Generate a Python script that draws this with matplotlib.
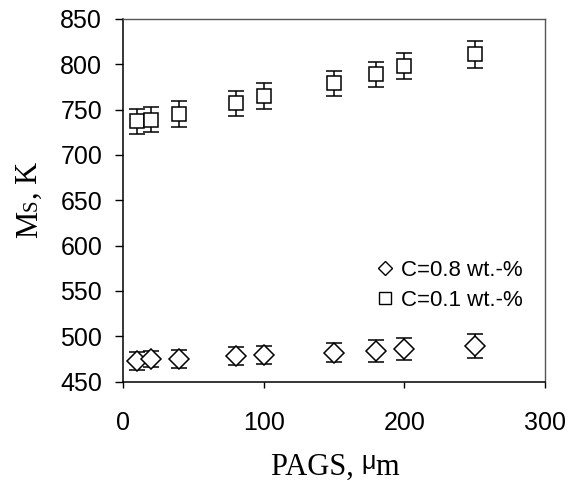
import numpy as np
import matplotlib
matplotlib.use("Agg")
import matplotlib.pyplot as plt
from matplotlib.lines import Line2D

# PAGS (um) and Ms (K) with error bars, two carbon contents
pags = [10, 20, 40, 80, 100, 150, 180, 200, 250]
ms_c08 = [473, 475, 475, 478, 479, 482, 484, 486, 489]
err_c08 = [10, 9, 10, 10, 10, 11, 12, 12, 13]
ms_c01 = [737, 739, 745, 757, 765, 779, 789, 798, 811]
err_c01 = [14, 14, 14, 14, 14, 14, 14, 14, 15]
labels = ["C=0.8 wt.-%", "C=0.1 wt.-%"]

W, H = 572, 492
fig = plt.figure(figsize=(W / 100, H / 100), dpi=100)
ax = fig.add_axes([123 / W, (H - 381.5) / H, 422 / W, 362.5 / H])

sans = "Liberation Sans"
serif = "Liberation Serif"

ax.errorbar(pags, ms_c08, yerr=err_c08, fmt="D", ms=10, mfc="white",
            mec="black", mew=1.1, ecolor="black", elinewidth=1.1,
            capsize=6, capthick=1.1, zorder=3)
ax.errorbar(pags, ms_c01, yerr=err_c01, fmt="s", ms=10, mfc="white",
            mec="black", mew=1.1, ecolor="black", elinewidth=1.1,
            capsize=6, capthick=1.1, zorder=3)

ax.set_xlim(0, 300)
ax.set_ylim(450, 850)
ax.set_xticks([0, 100, 200, 300])
ax.set_yticks(np.arange(450, 851, 50))
for sp in ["left", "bottom"]:
    ax.spines[sp].set_color("black")
    ax.spines[sp].set_linewidth(1.1)
for sp in ["top", "right"]:
    ax.spines[sp].set_color("#555555")
    ax.spines[sp].set_linewidth(1.0)
ax.tick_params(axis="y", direction="out", length=6, width=1, pad=9,
               labelsize=18)
ax.tick_params(axis="x", direction="out", length=4, width=1, pad=17,
               labelsize=18)
for t in ax.get_xticklabels() + ax.get_yticklabels():
    t.set_fontfamily(sans)

handles = [
    Line2D([], [], ls="none", marker="D", ms=7, mfc="white", mec="black", mew=1),
    Line2D([], [], ls="none", marker="s", ms=8, mfc="white", mec="black", mew=1),
]
ax.legend(handles, labels, loc="upper left", bbox_to_anchor=(0.6, 0.336),
          frameon=False, prop={"family": sans, "size": 16},
          handlelength=0.8, handletextpad=0.3, labelspacing=0.4,
          borderpad=0, borderaxespad=0)


def chain(pieces, x, y, rotation=0, keep=True):
    """Place text pieces one after another, starting at pixel (x, y)."""
    renderer = fig.canvas.get_renderer()
    pos = 0.0
    for s, size, fam, rise in pieces:
        if rotation == 0:
            px, py = x + pos, y + rise
        else:
            px, py = x - rise, y + pos
        t = fig.text(px / W, py / H, s, fontsize=size, family=fam,
                     rotation=rotation, ha="left", va="baseline",
                     rotation_mode="anchor")
        ext = t.get_window_extent(renderer)
        pos += ext.width if rotation == 0 else ext.height
        if not keep:
            t.remove()
    return pos


# x label: "PAGS, " + raised sans mu + "m"
xl = [("PAGS, ", 22, serif, 0), ("\u03bc", 18, sans, 6), ("m", 22, serif, 0)]
width = chain(xl, 0, 0, keep=False)
chain(xl, 335 - width / 2, H - 475)

# y label: "M" + small-cap "S" + ", K"
yl = [("M", 22, serif, 0), ("S", 15, serif, 0), (", K", 22, serif, 0)]
length = chain(yl, 0, 0, rotation=90, keep=False)
chain(yl, 37, H - 200 - length / 2, rotation=90)

fig.savefig("out.png", dpi=100)
